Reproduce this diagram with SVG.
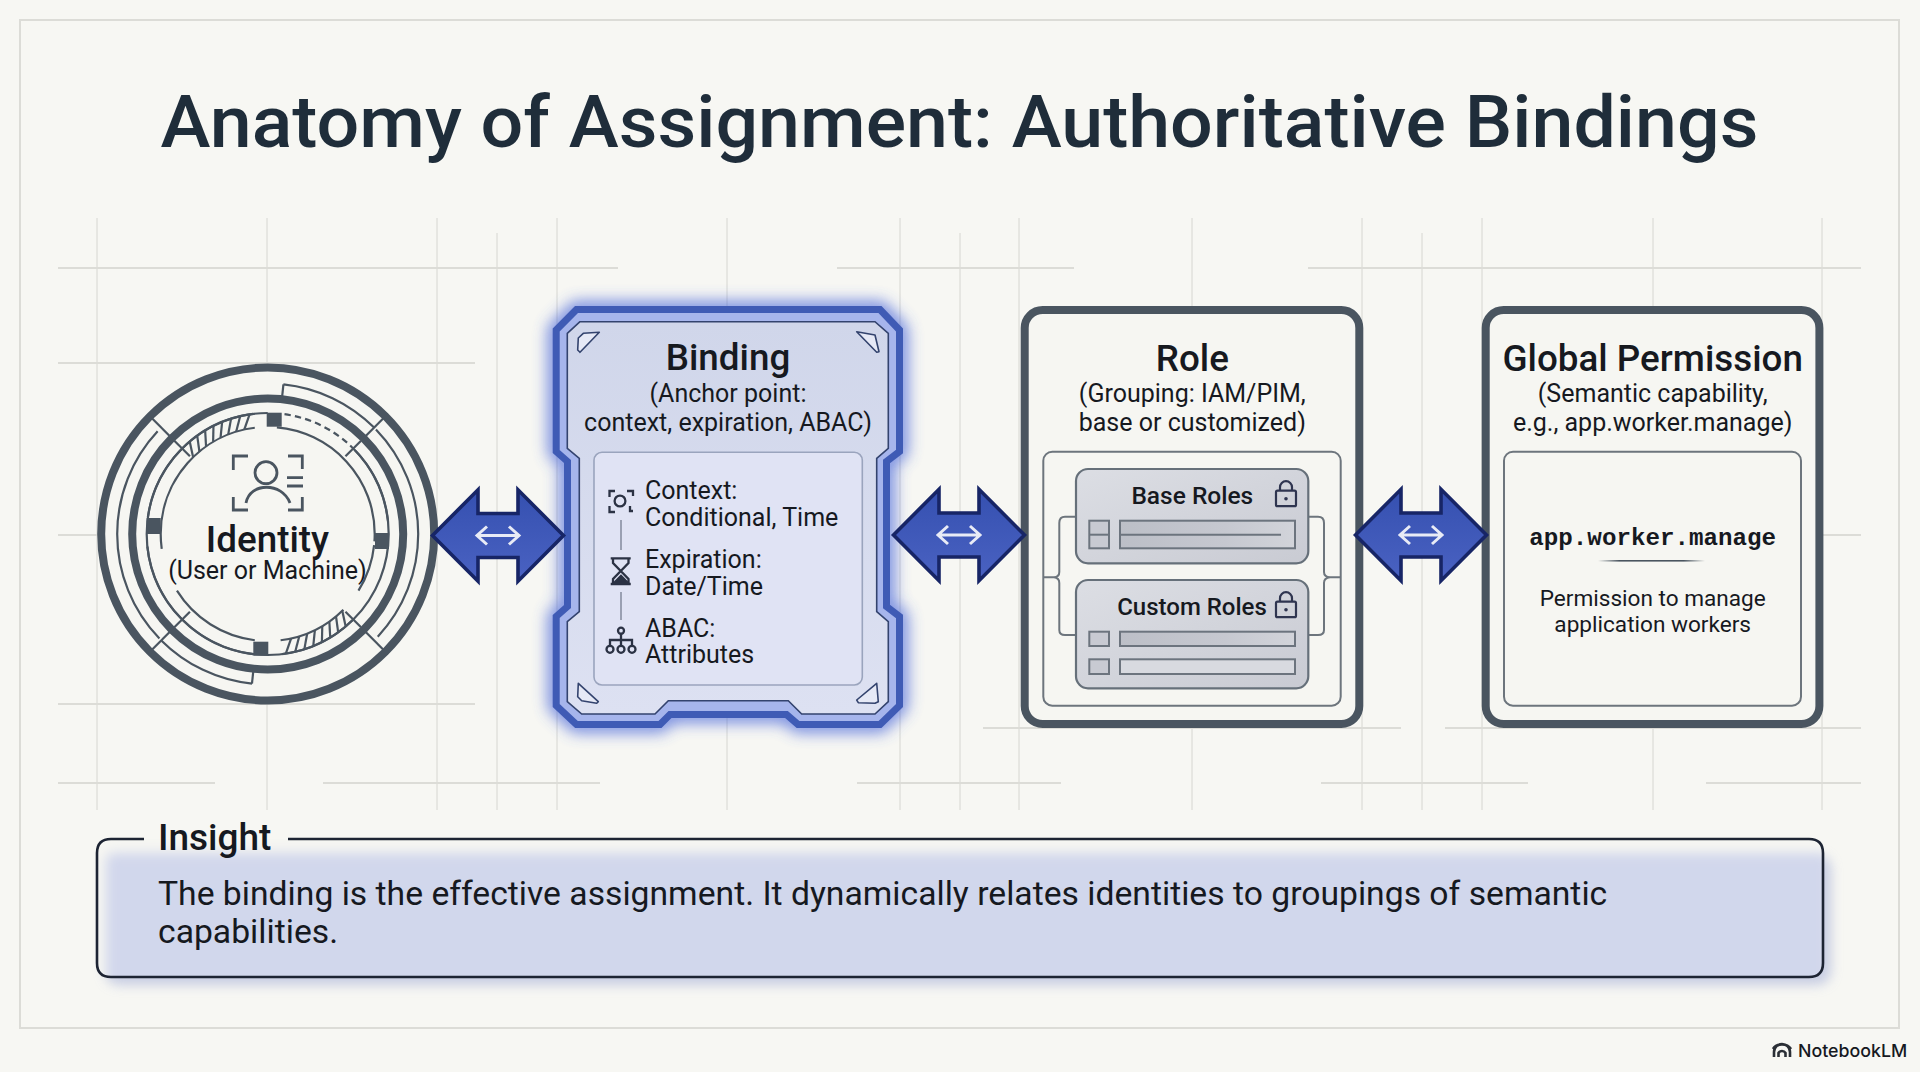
<svg xmlns="http://www.w3.org/2000/svg" width="1920" height="1072" viewBox="0 0 1920 1072">
<style>
text{font-family:Roboto,"Liberation Sans",sans-serif;fill:#16191f}
.h{font-size:36.8px;font-weight:500;text-anchor:middle}
.s{font-size:25px;text-anchor:middle}
.i{font-size:25px}
.g{fill:none}
.gv{stroke:#d6d6d1;stroke-width:1}
.gh{stroke:#dcdcd7;stroke-width:1.8}
.a{fill:none;stroke:#4a5560;stroke-width:2.2}
.d{fill:#4a5560}
.frame{fill:#f6f6f2;stroke:#4a5560;stroke-width:8}
.panel{fill:none;stroke:#6d757d;stroke-width:2}
.card{fill:url(#cg);stroke:#66707a;stroke-width:2.2}
.cell{fill:#c8cad2;stroke:#6c747e;stroke-width:2}
.bar{fill:url(#barg);stroke:#6c747e;stroke-width:2}
.lock{fill:none;stroke:#2f3550;stroke-width:2.2}
.mk{fill:#e6e9f6;stroke:#33436e;stroke-width:1.6;stroke-linejoin:round}
.ic{fill:none;stroke:#2b3244;stroke-width:2.3}
</style>
<defs>
<linearGradient id="cg" x1="0" y1="0" x2="1" y2="1"><stop offset="0" stop-color="#dcdee4"/><stop offset="1" stop-color="#c9cbd3"/></linearGradient>
<linearGradient id="barg"><stop offset="0" stop-color="#bcbfc7"/><stop offset=".6" stop-color="#c6c8d0"/><stop offset="1" stop-color="#d2d4da"/></linearGradient>
<linearGradient id="bg" x1="0" y1="0" x2="0" y2="1"><stop offset="0" stop-color="#d0d6ea"/><stop offset="1" stop-color="#dde1f2"/></linearGradient>
<linearGradient id="ar" x1="0" y1="0" x2="0" y2="1"><stop offset="0" stop-color="#3550b0"/><stop offset="1" stop-color="#4a62c2"/></linearGradient>
<linearGradient id="rl"><stop offset="0" stop-color="#4a5560" stop-opacity="0"/><stop offset=".2" stop-color="#4a5560"/><stop offset=".8" stop-color="#4a5560"/><stop offset="1" stop-color="#4a5560" stop-opacity="0"/></linearGradient>
<filter id="glow" x="-15%" y="-15%" width="130%" height="130%"><feGaussianBlur stdDeviation="8"/></filter>
<filter id="soft" x="-5%" y="-30%" width="110%" height="160%"><feGaussianBlur stdDeviation="6"/></filter>
<filter id="bandblur" x="-5%" y="-5%" width="110%" height="110%"><feGaussianBlur stdDeviation="1.5"/></filter>
<clipPath id="ins"><rect x="97" y="839" width="1726" height="138" rx="14"/></clipPath>
<line id="hatch" x1="-4" y1="-107" x2="4" y2="-121" stroke="#4a5560" stroke-width="2.2"/>
<g id="bi">
<polygon points="-65.5,0 -20,-45.7 -20,-22 20,-22 20,-45.7 65.5,0 20,45.7 20,22 -20,22 -20,45.7" fill="url(#ar)" stroke="#172566" stroke-width="3.6" stroke-linejoin="miter"/>
<path d="M-20,0H20M-11,-9L-21,0L-11,9M11,-9L21,0L11,9" fill="none" stroke="#e8ebf6" stroke-width="3"/>
</g>
<g id="lk">
<rect x="-10" y="0" width="20" height="15.5" rx="1.5" class="lock"/>
<path d="M-6,0V-3.5A6,6 0 0 1 6,-3.5V0" class="lock"/>
<circle cx="0" cy="8" r="1.8" fill="#2f3550"/>
</g>
</defs>
<rect width="1920" height="1072" fill="#f7f7f3"/>
<rect x="20" y="20" width="1879" height="1008" fill="none" stroke="#dcdcd7" stroke-width="2"/>
<g id="grid" class="g">
<path class="gv" d="M97,218V810M267,218V810M437,218V810M497,233V810M557,218V810M727,218V810M900,218V810M960,233V810M1019,218V810M1192,218V810M1362,218V810M1422,233V810M1482,218V810M1653,218V810M1822,218V810"/>
<path class="gh" d="M58,268H618M837,268H1074M1308,268H1861M58,363H475M58,704H475M983,728H1401M1445,728H1861M58,783H215M323,783H600M857,783H1061M1321,783H1528M1706,783H1861M58,535H100M1823,535H1861"/>
</g>
<text id="title" x="160.5" y="147" font-size="73" font-weight="500" textLength="1598" lengthAdjust="spacingAndGlyphs" style="fill:#1f2d3a">Anatomy of Assignment: Authoritative Bindings</text>

<g id="identity">
<circle cx="267.7" cy="534" r="166.5" fill="#f6f6f2" stroke="#4a5560" stroke-width="8"/>
<circle cx="267.7" cy="534" r="135.5" fill="none" stroke="#4a5560" stroke-width="8"/>
<g transform="translate(267.7 534) rotate(-90)" fill="none">
<circle class="a" r="150.5" pathLength="360" stroke-dasharray="39 321" stroke-dashoffset="-6"/>
<circle class="a" r="150.5" pathLength="360" stroke-dasharray="87 273" stroke-dashoffset="-46"/>
<circle class="a" r="150.5" pathLength="360" stroke-dasharray="39 321" stroke-dashoffset="-186"/>
<circle class="a" r="150.5" pathLength="360" stroke-dasharray="87 273" stroke-dashoffset="-226"/>
<circle class="a" r="121" pathLength="360" stroke-dasharray="3 2 3 2 3 2 3 2 3 2 3 2 3 2 360" stroke-dashoffset="-8"/>
<circle class="a" r="121" pathLength="360" stroke-dasharray="38 322" stroke-dashoffset="-46"/>
<circle class="a" r="121" pathLength="360" stroke-dasharray="35 325" stroke-dashoffset="-278"/>
<circle class="a" r="121" pathLength="360" stroke-dasharray="38 322" stroke-dashoffset="-135"/>
<circle class="a" r="121" pathLength="360" stroke-dasharray="40 320" stroke-dashoffset="-313"/>
<circle class="a" r="121" pathLength="360" stroke-dasharray="77 283" stroke-dashoffset="-187"/>
<circle class="a" r="107" pathLength="360" stroke-dasharray="89 271" stroke-dashoffset="-5"/>
<circle class="a" r="107" pathLength="360" stroke-dasharray="26 334" stroke-dashoffset="-96"/>
<circle class="a" r="107" pathLength="360" stroke-dasharray="38 322" stroke-dashoffset="-135"/>
<circle class="a" r="107" pathLength="360" stroke-dasharray="51 309" stroke-dashoffset="-187"/>
<circle class="a" r="107" pathLength="360" stroke-dasharray="91 269" stroke-dashoffset="-262"/>
</g>
<g transform="translate(267.7 534)">
<g>
<use href="#hatch" transform="rotate(-42)"/><use href="#hatch" transform="rotate(-37.5)"/><use href="#hatch" transform="rotate(-33)"/><use href="#hatch" transform="rotate(-28.5)"/><use href="#hatch" transform="rotate(-24)"/><use href="#hatch" transform="rotate(-19.5)"/><use href="#hatch" transform="rotate(-15)"/><use href="#hatch" transform="rotate(-10.5)"/>
<use href="#hatch" transform="rotate(138)"/><use href="#hatch" transform="rotate(142.5)"/><use href="#hatch" transform="rotate(147)"/><use href="#hatch" transform="rotate(151.5)"/><use href="#hatch" transform="rotate(156)"/><use href="#hatch" transform="rotate(160.5)"/><use href="#hatch" transform="rotate(165)"/><use href="#hatch" transform="rotate(169.5)"/>
</g>
<g class="a">
<line y1="-139" y2="-164" transform="rotate(45)"/><line y1="-139" y2="-164" transform="rotate(135)"/><line y1="-139" y2="-164" transform="rotate(225)"/><line y1="-139" y2="-164" transform="rotate(315)"/>
<line y1="-110" y2="-132" transform="rotate(45)"/><line y1="-110" y2="-132" transform="rotate(135)"/><line y1="-110" y2="-132" transform="rotate(225)"/><line y1="-110" y2="-132" transform="rotate(315)"/>
<line y1="-138" y2="-150.5" transform="rotate(6)"/><line y1="-138" y2="-150.5" transform="rotate(186)"/>
</g>
</g>
<rect class="d" x="266.7" y="412.7" width="15" height="14"/>
<rect class="d" x="253.3" y="641.7" width="15" height="14"/>
<rect class="d" x="375" y="533" width="14" height="16"/>
<rect class="d" x="146.7" y="518" width="14" height="16"/>
<g fill="none" stroke="#4a5560" stroke-width="2.8">
<path d="M233.3,470V456H248M288,456H302.3V469M233.3,497V510H248M288,510H302.3V497"/>
<circle cx="266" cy="472.7" r="11"/>
<path d="M246,503C250,482 282,482 290,503"/>
<path d="M287,477.7H303M287,486H303"/>
</g>
<text class="h" x="267.5" y="552">Identity</text>
<text class="s" x="267.5" y="579">(User or Machine)</text>
</g>

<g id="binding">
<path d="M576.5,309.5L556.2,330V451.5L567.5,461.5V606.5L556.2,616.5V705.5L576.5,724.5H660L670,714.5H786.5L798,724.5H880L899.5,705.5V616.5L886.5,606.5V461.5L899.5,451.5V330L880,309.5Z" fill="none" stroke="#3f5fd8" stroke-width="15" opacity=".8" filter="url(#glow)"/>
<path d="M576.5,309.5L556.2,330V451.5L567.5,461.5V606.5L556.2,616.5V705.5L576.5,724.5H660L670,714.5H786.5L798,724.5H880L899.5,705.5V616.5L886.5,606.5V461.5L899.5,451.5V330L880,309.5Z" fill="#a6b5ec" stroke="#3f5bb5" stroke-width="7"/>
<path d="M580,321.7L567.3,333.3V448.3L579.3,458.3V611.7L567.3,621.7V701.7L581.7,714H655L668.3,700.7H788.3L801.7,714H875L888.3,701.7V621.7L876.7,611.7V458.3L888.3,448.3V333.3L875,321.7Z" fill="url(#bg)" stroke="#33436e" stroke-width="1.6"/>
<path class="mk" d="M583.3,333.3L599.3,332.3L580,352.3L577.7,350L578.3,338Z"/>
<path class="mk" d="M856.7,331.7L875,335L879,351.7L876.7,352.3Z"/>
<path class="mk" d="M578.3,683.3L598.3,701.7L596.7,703.3L581.7,700.7L577.7,696.7Z"/>
<path class="mk" d="M876.7,683.3L878.3,701.7L875,703.3L858.3,702.7L856.7,700Z"/>
<rect x="594" y="452.3" width="268.3" height="232.7" rx="8" fill="#e0e3f4" stroke="#9aa4bd" stroke-width="1.6"/>
<text class="h" x="728" y="370">Binding</text>
<text class="s" x="728" y="402">(Anchor point:</text>
<text class="s" x="728" y="431">context, expiration, ABAC)</text>
<text class="i" x="645" y="498.5">Context:</text>
<text class="i" x="645" y="525.5">Conditional, Time</text>
<text class="i" x="645" y="567.5">Expiration:</text>
<text class="i" x="645" y="594.5">Date/Time</text>
<text class="i" x="645" y="636.5">ABAC:</text>
<text class="i" x="645" y="663">Attributes</text>
<g class="ic">
<path d="M609.5,497V491H615M627,491H633V496M609.5,506V512H615M630,506V511H633"/>
<circle cx="620" cy="501" r="5.4"/>
<path stroke="#7d8496" stroke-width="1.4" d="M621,520V550M621,592V620"/>
<path d="M610.7,558.3H630.7M610.7,584H630.7M613,559V563L628.5,579V583M628.5,559V563L613,579V583"/>
<path d="M614,583L621,576L628,583Z" fill="#2b3244"/>
<circle cx="621" cy="630.7" r="3"/>
<path d="M621,634V645M610,645V640H632V645"/>
<circle cx="610" cy="649.3" r="3.5"/><circle cx="621" cy="649.3" r="3.5"/><circle cx="632" cy="649.3" r="3.5"/>
</g>
</g>

<g id="role">
<rect class="frame" x="1024.7" y="310" width="334.6" height="414" rx="18"/>
<rect class="panel" x="1043.3" y="451.7" width="297.4" height="254" rx="9"/>
<path class="panel" d="M1076,516.7H1065Q1059.3,516.7 1059.3,523V572Q1059.3,577 1054,577.3H1043.3M1054,577.3Q1059.3,578 1059.3,583V630Q1059.3,635 1065,635H1076M1308.3,516.7H1318Q1324,516.7 1324,523V572Q1324,577 1330,577.3H1340.7M1330,577.3Q1324,578 1324,583V630Q1324,635 1318,635H1308.3"/>
<rect class="card" x="1076" y="469" width="232.3" height="94.3" rx="12"/>
<rect class="card" x="1076" y="580" width="232.3" height="108.3" rx="12"/>
<rect class="cell" x="1089.3" y="520.7" width="19.7" height="27.6"/>
<path class="cell" d="M1089.3,534.7H1109"/>
<rect class="bar" x="1120" y="520.7" width="175" height="27.6"/>
<path class="cell" d="M1120,534.7H1281"/>
<rect class="cell" x="1089.3" y="631.7" width="19.7" height="14.3"/>
<rect class="bar" x="1120" y="631.7" width="175" height="14.3"/>
<rect class="cell" x="1089.3" y="659.3" width="19.7" height="14.7"/>
<rect class="cell" x="1120" y="659.3" width="175" height="14.7" style="fill:#d8dae0"/>
<use href="#lk" transform="translate(1286 490.7)"/>
<use href="#lk" transform="translate(1286 601.7)"/>
<text class="h" x="1192.3" y="370.5">Role</text>
<text class="s" x="1192.3" y="402">(Grouping: IAM/PIM,</text>
<text class="s" x="1192.3" y="431">base or customized)</text>
<text class="s" x="1192.3" y="504" style="font-size:24.5px;font-weight:500">Base Roles</text>
<text class="s" x="1192" y="615" style="font-size:24px;font-weight:500">Custom Roles</text>
</g>

<g id="permission">
<rect class="frame" x="1485.7" y="310" width="333.7" height="414" rx="18"/>
<rect class="panel" x="1504" y="451.7" width="297" height="254" rx="9"/>
<text class="h" x="1652.7" y="370.5">Global Permission</text>
<text class="s" x="1652.7" y="402">(Semantic capability,</text>
<text class="s" x="1652.7" y="431">e.g., app.worker.manage)</text>
<text x="1652.7" y="545" text-anchor="middle" font-size="24.2" font-weight="700" style="font-family:'Liberation Mono','DejaVu Sans Mono',monospace">app.worker.manage</text>
<rect x="1598" y="560" width="107" height="1.6" fill="url(#rl)"/>
<text class="s" x="1652.7" y="605.5" style="font-size:22.6px">Permission to manage</text>
<text class="s" x="1652.7" y="631.5" style="font-size:22.6px">application workers</text>
</g>

<g id="connectors">
<use href="#bi" transform="translate(498 535.5)"/>
<use href="#bi" transform="translate(959 535)"/>
<use href="#bi" transform="translate(1421 535)"/>
</g>

<g id="insight">
<rect x="105" y="855" width="1726" height="130" rx="14" fill="#b3bbdc" opacity=".7" filter="url(#soft)"/>
<rect x="97" y="839" width="1726" height="138" rx="14" fill="#f6f6f2"/>
<g clip-path="url(#ins)"><rect x="106" y="853" width="1724" height="140" rx="8" fill="#d1d7ec" filter="url(#soft)"/></g>
<path d="M144,839H111Q97,839 97,853V963Q97,977 111,977H1809Q1823,977 1823,963V853Q1823,839 1809,839H288" fill="none" stroke="#1d2433" stroke-width="2.6"/>
<text x="158" y="850" font-size="37" font-weight="500">Insight</text>
<text x="158" y="905" font-size="33.7">The binding is the effective assignment. It dynamically relates identities to groupings of semantic</text>
<text x="158" y="942.5" font-size="33.7">capabilities.</text>
</g>

<g id="brand">
<path d="M1774,1057V1052A8,8 0 0 1 1790,1052V1057M1778.5,1057V1053A4,4 0 0 1 1785.5,1053V1057M1773,1049A10,8 0 0 1 1791,1049" fill="none" stroke="#2b2f36" stroke-width="2.6"/>
<text x="1798" y="1057" font-size="17.8" font-weight="500" style="font-family:Inter,Roboto,sans-serif">NotebookLM</text>
</g>
</svg>
